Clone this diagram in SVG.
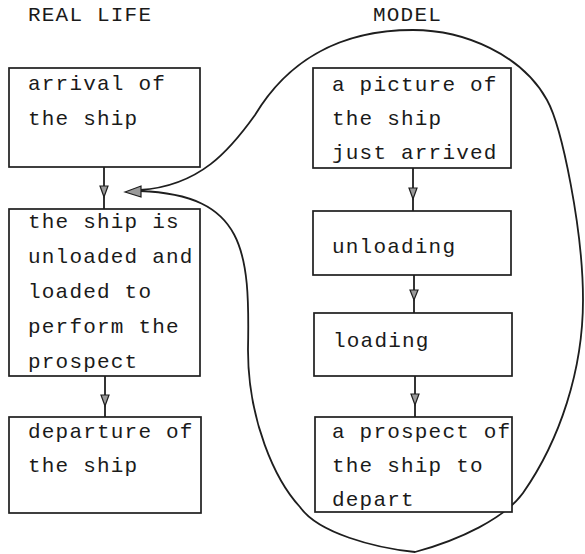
<svg xmlns="http://www.w3.org/2000/svg" width="585" height="554" viewBox="0 0 585 554">
<style>
.box{fill:#fff;stroke:#1e1e1e;stroke-width:1.7}
.t{font-family:"Liberation Mono","Courier New",monospace;font-size:21px;letter-spacing:1.2px;fill:#1a1a1a}
.ln{fill:none;stroke:#1e1e1e;stroke-width:1.8}
.ah{fill:#9a9a9a;stroke:#1e1e1e;stroke-width:1.2;stroke-linejoin:miter}
</style>
<rect width="585" height="554" fill="#fff"/>
<g id="headings">
<text class="t" x="28" y="21">REAL LIFE</text>
<text class="t" x="373" y="21">MODEL</text>
</g>
<g id="connectors">
<line class="ln" x1="104" y1="167" x2="104" y2="209"/>
<polygon class="ah" points="100,186 108,186 104,197"/>
<line class="ln" x1="105" y1="376" x2="105" y2="417"/>
<polygon class="ah" points="101,395 109,395 105,406"/>
<line class="ln" x1="413" y1="168" x2="413" y2="211"/>
<polygon class="ah" points="409,188 417,188 413,199"/>
<line class="ln" x1="414" y1="275" x2="414" y2="313"/>
<polygon class="ah" points="410,290 418,290 414,300"/>
<line class="ln" x1="415" y1="376" x2="415" y2="417"/>
<polygon class="ah" points="411,394 419,394 415,405"/>
<path class="ln" d="M140,190 C200,186 230,150 255,115 C285,65 335,30 413,30 C465,30 522,55 547,100 C562,127 583,230 583,300 C583,370 560,440 523,493 C505,518 460,540 415,552 C375,548 318,533 300,507 C275,480 248,420 248,350 C250,250 245,195 140,191"/>
<polygon class="ah" points="125,192 141,186 141,197"/>
</g>
<g id="arrival">
<rect class="box" x="9" y="68" width="191" height="99"/>
<text class="t" x="28" y="90">arrival of</text>
<text class="t" x="28" y="125">the ship</text>
</g>
<g id="unloaded">
<rect class="box" x="9" y="209" width="191" height="167"/>
<text class="t" x="28" y="228">the ship is</text>
<text class="t" x="28" y="263">unloaded and</text>
<text class="t" x="28" y="298">loaded to</text>
<text class="t" x="28" y="333">perform the</text>
<text class="t" x="28" y="368">prospect</text>
</g>
<g id="departure">
<rect class="box" x="9" y="417" width="192" height="96"/>
<text class="t" x="28" y="438">departure of</text>
<text class="t" x="28" y="472">the ship</text>
</g>
<g id="picture">
<rect class="box" x="313" y="68" width="198" height="100"/>
<text class="t" x="332" y="91">a picture of</text>
<text class="t" x="332" y="125">the ship</text>
<text class="t" x="332" y="159">just arrived</text>
</g>
<g id="unloading">
<rect class="box" x="313" y="211" width="198" height="64"/>
<text class="t" x="332" y="253">unloading</text>
</g>
<g id="loading">
<rect class="box" x="314" y="313" width="198" height="63"/>
<text class="t" x="333" y="347">loading</text>
</g>
<g id="prospect">
<rect class="box" x="315" y="417" width="197" height="95"/>
<text class="t" x="332" y="438">a prospect of</text>
<text class="t" x="332" y="472">the ship to</text>
<text class="t" x="332" y="506">depart</text>
</g>
</svg>
